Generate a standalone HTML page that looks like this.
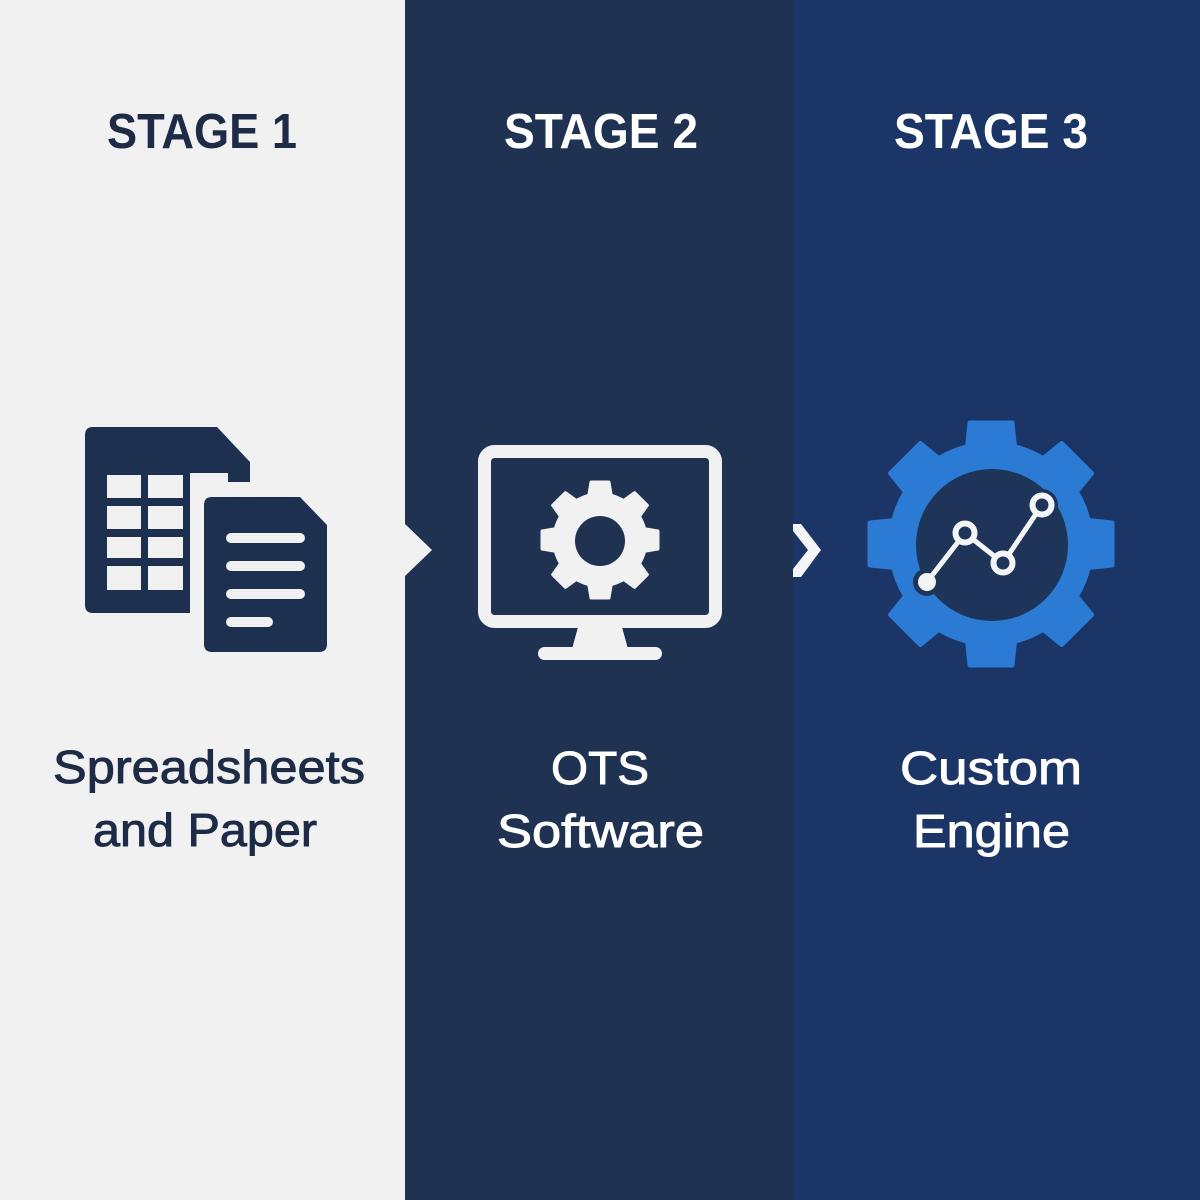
<!DOCTYPE html>
<html>
<head>
<meta charset="utf-8">
<style>
  html,body{margin:0;padding:0;width:1200px;height:1200px;overflow:hidden;background:#f1f1f2;}
  svg{display:block;}
</style>
</head>
<body>
<svg width="1200" height="1200" viewBox="0 0 1200 1200" xmlns="http://www.w3.org/2000/svg">
  <!-- Panels -->
  <rect x="0" y="0" width="405" height="1200" fill="#f1f1f2"/>
  <rect x="405" y="0" width="389" height="1200" fill="#1f3252"/>
  <rect x="793" y="0" width="407" height="1200" fill="#1b3566"/>
  <!-- light notch arrow into panel 2 -->
  <polygon points="404,523 432,550 404,577" fill="#f1f1f2"/>
  <!-- white chevron between panel 2 and 3 -->
  <polygon points="793,524 801,524 821,550 801,577 793,577 793,569 808,550 793,531" fill="#f4f5f7"/>

  <!-- Headers -->
  <g font-family="Liberation Sans, Arial, sans-serif" font-weight="bold" font-size="49">
    <text x="107" y="148" textLength="190" lengthAdjust="spacingAndGlyphs" fill="#1e2b47">STAGE 1</text>
    <text x="504" y="148" textLength="194" lengthAdjust="spacingAndGlyphs" fill="#ffffff">STAGE 2</text>
    <text x="894" y="148" textLength="194" lengthAdjust="spacingAndGlyphs" fill="#ffffff">STAGE 3</text>
  </g>

  <!-- Labels -->
  <g font-family="Liberation Sans, Arial, sans-serif" font-size="46" stroke-width="0.9">
    <text x="53" y="783" textLength="312" lengthAdjust="spacingAndGlyphs" fill="#1e2b47" stroke="#1e2b47">Spreadsheets</text>
    <text x="93" y="846" textLength="224" lengthAdjust="spacingAndGlyphs" fill="#1e2b47" stroke="#1e2b47">and Paper</text>
    <text x="551" y="784" textLength="98" lengthAdjust="spacingAndGlyphs" fill="#ffffff" stroke="#ffffff">OTS</text>
    <text x="497" y="847" textLength="207" lengthAdjust="spacingAndGlyphs" fill="#ffffff" stroke="#ffffff">Software</text>
    <text x="900" y="784" textLength="182" lengthAdjust="spacingAndGlyphs" fill="#ffffff" stroke="#ffffff">Custom</text>
    <text x="913" y="847" textLength="157" lengthAdjust="spacingAndGlyphs" fill="#ffffff" stroke="#ffffff">Engine</text>
  </g>

  <!-- Icon 1: spreadsheet + paper -->
  <path d="M93,427 H217 L250,462 V482 H228 V473 H190 V613 H93 Q85,613 85,605 V435 Q85,427 93,427 Z" fill="#1e3050"/>
  <g fill="#f1f1f2">
    <rect x="107" y="475" width="34" height="23"/>
    <rect x="148" y="475" width="35" height="23"/>
    <rect x="107" y="506" width="34" height="23"/>
    <rect x="148" y="506" width="35" height="23"/>
    <rect x="107" y="537" width="34" height="21"/>
    <rect x="148" y="537" width="35" height="21"/>
    <rect x="107" y="566" width="34" height="24"/>
    <rect x="148" y="566" width="35" height="24"/>
  </g>
  <path d="M212,497 H300 L327,525 V644 Q327,652 319,652 H212 Q204,652 204,644 V505 Q204,497 212,497 Z" fill="#1e3050"/>
  <g fill="#f1f1f2">
    <rect x="226" y="533" width="79" height="10" rx="5"/>
    <rect x="226" y="561" width="79" height="10" rx="5"/>
    <rect x="226" y="589" width="79" height="10" rx="5"/>
    <rect x="226" y="617" width="47" height="10" rx="5"/>
  </g>

  <!-- Icon 2: monitor with gear -->
  <rect x="484.5" y="451.5" width="231" height="170" rx="10" fill="none" stroke="#f1f1f2" stroke-width="13"/>
  <polygon points="578,627 622,627 628,649 572,649" fill="#f1f1f2"/>
  <rect x="538" y="647" width="124" height="13" rx="6.5" fill="#f1f1f2"/>
  <g fill="#f1f1f2" stroke="#f1f1f2" stroke-width="3" stroke-linejoin="round">
    <circle cx="600" cy="540" r="46"/>
    <g id="t2">
      <polygon points="588,500 591,482 609,482 612,500"/>
    </g>
    <use href="#t2" transform="rotate(45 600 540)"/>
    <use href="#t2" transform="rotate(90 600 540)"/>
    <use href="#t2" transform="rotate(135 600 540)"/>
    <use href="#t2" transform="rotate(180 600 540)"/>
    <use href="#t2" transform="rotate(225 600 540)"/>
    <use href="#t2" transform="rotate(270 600 540)"/>
    <use href="#t2" transform="rotate(315 600 540)"/>
  </g>
  <circle cx="600" cy="541" r="25" fill="#1f3252"/>

  <!-- Icon 3: blue gear with chart -->
  <g fill="#2b7bd4" stroke="#2b7bd4" stroke-width="5" stroke-linejoin="round">
    <circle cx="991" cy="544" r="100"/>
    <g id="t3">
      <polygon points="967,452 970,423 1012,423 1015,452"/>
    </g>
    <use href="#t3" transform="rotate(45 991 544)"/>
    <use href="#t3" transform="rotate(90 991 544)"/>
    <use href="#t3" transform="rotate(135 991 544)"/>
    <use href="#t3" transform="rotate(180 991 544)"/>
    <use href="#t3" transform="rotate(225 991 544)"/>
    <use href="#t3" transform="rotate(270 991 544)"/>
    <use href="#t3" transform="rotate(315 991 544)"/>
  </g>
  <circle cx="992" cy="545" r="76" fill="#1e3459"/>
  <!-- chart line dark halo -->
  <polyline points="927,582 965,533 1003,563 1042,505" fill="none" stroke="#1e3459" stroke-width="12" stroke-linejoin="round" stroke-linecap="round"/>
  <circle cx="927" cy="582" r="14" fill="#1e3459"/>
  <circle cx="965" cy="533" r="16" fill="#1e3459"/>
  <circle cx="1003" cy="563" r="16" fill="#1e3459"/>
  <circle cx="1042" cy="505" r="16" fill="#1e3459"/>
  <polyline points="927,582 965,533 1003,563 1042,505" fill="none" stroke="#f4f5f7" stroke-width="5" stroke-linejoin="round"/>
  <circle cx="927" cy="582" r="9" fill="#f4f5f7"/>
  <circle cx="965" cy="533" r="9.5" fill="#1e3459" stroke="#f4f5f7" stroke-width="6"/>
  <circle cx="1003" cy="563" r="9.5" fill="#1e3459" stroke="#f4f5f7" stroke-width="6"/>
  <circle cx="1042" cy="505" r="9.5" fill="#1e3459" stroke="#f4f5f7" stroke-width="6"/>
</svg>
</body>
</html>
